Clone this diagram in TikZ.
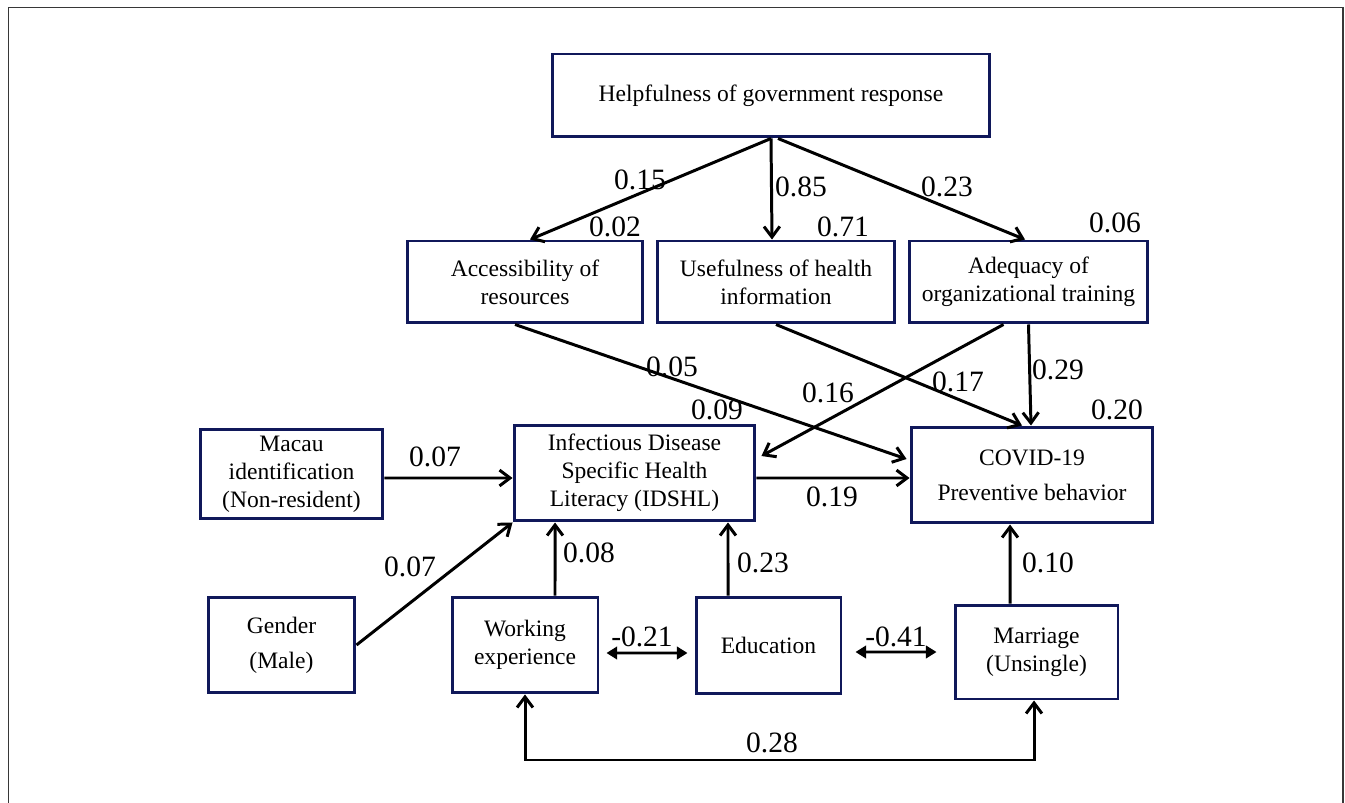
\documentclass[tikz,border=0pt]{standalone}
\usepackage{fontspec}
\setmainfont{Liberation Serif}
\usetikzlibrary{arrows.meta}
\definecolor{boxnavy}{RGB}{16,24,90}
\definecolor{framegray}{RGB}{55,55,55}
\tikzset{
  basebox/.style={rectangle,draw=boxnavy,line width=1.7pt,fill=white,align=center,inner sep=0pt,font=\fontsize{13.4}{15.9}\selectfont},
  coefnode/.style={inner sep=0pt,font=\fontsize{16.8}{18}\selectfont},
  arr/.style={-{Straight Barb[length=6pt,width=9pt]},line width=1.7pt,color=black},
  biarr/.style={{Straight Barb[length=6pt,width=9pt]}-{Straight Barb[length=6pt,width=9pt]},line width=1.7pt,color=black},
  corrarr/.style={{Triangle[length=6pt,width=7pt]}-{Triangle[length=6pt,width=7pt]},line width=1.6pt,color=black}
}

\begin{document}
\begin{tikzpicture}[x=0.02cm,y=-0.02cm]
  \useasboundingbox (0,0) rectangle (1345,803);
  \draw[framegray,line width=1.1pt] (8.5,803) -- (8.5,7.5) -- (1343,7.5) -- (1343,803);

  % variables
  \node[basebox,minimum width=8.76cm,minimum height=1.66cm] (help) at (771,95.5) {Helpfulness of government response};
  \node[basebox,minimum width=4.72cm,minimum height=1.64cm] (access) at (525,282) {Accessibility of\\resources};
  \node[basebox,minimum width=4.76cm,minimum height=1.64cm] (useful) at (776,282) {Usefulness of health\\information};
  \node[basebox,minimum width=4.78cm,minimum height=1.64cm] (adequ) at (1028.5,282) {Adequacy of\\organizational training};
  \node[basebox,minimum width=3.66cm,minimum height=1.8cm] (macau) at (291.5,474) {Macau\\identification\\(Non-resident)};
  \node[basebox,minimum width=4.82cm,minimum height=1.92cm] (idshl) at (634.5,473) {Infectious Disease\\Specific Health\\Literacy (IDSHL)};
  \node[basebox,minimum width=4.84cm,minimum height=1.92cm] (covid) at (1032,475) {COVID-19\\[0.14cm]Preventive behavior};
  \node[basebox,minimum width=2.94cm,minimum height=1.92cm] (gender) at (281.5,645) {Gender\\[0.14cm](Male)};
  \node[basebox,minimum width=2.92cm,minimum height=1.92cm] (work) at (525,645) {Working\\experience};
  \node[basebox,minimum width=2.9cm,minimum height=1.94cm] (edu) at (768.5,645.5) {Education};
  \node[basebox,minimum width=3.26cm,minimum height=1.88cm] (marry) at (1036.5,652) {Marriage\\(Unsingle)};
  \coordinate (base) at (780,760);

  % paths
  \draw[arr] (help.south) -- ([xshift=0.1cm]access.north);
  \draw[arr] (help.south) -- ([xshift=-0.08cm]useful.north);
  \draw[arr] ([xshift=0.14cm]help.south) -- ([xshift=-0.07cm]adequ.north);
  \draw[arr] ([xshift=-0.2cm]access.south) -- ([xshift=-0.06cm,yshift=0.32cm]covid.west);
  \draw[arr] (useful.south) -- ([xshift=-0.2cm]covid.north);
  \draw[arr] ([xshift=-0.5cm]adequ.south) -- ([xshift=0.1cm,yshift=0.34cm]idshl.east);
  \draw[arr] (adequ.south) -- ([xshift=-0.02cm]covid.north);
  \draw[arr] ([yshift=-0.08cm]macau.east) -- ([yshift=-0.1cm]idshl.west);
  \draw[arr] ([yshift=-0.1cm]idshl.east) -- ([yshift=-0.06cm]covid.west);
  \draw[arr] (gender.east) -- (idshl.south west);
  \draw[arr] ([xshift=0.6cm]work.north) -- ([xshift=-1.59cm]idshl.south);
  \draw[arr] ([xshift=-0.81cm]edu.north) -- ([xshift=1.87cm]idshl.south);
  \draw[arr] ([xshift=-0.53cm]marry.north) -- ([xshift=-0.44cm]covid.south);
  \draw[corrarr] ([xshift=0.14cm,yshift=-0.16cm]work.east) -- ([xshift=-0.14cm,yshift=-0.15cm]edu.west);
  \draw[corrarr] ([xshift=0.26cm,yshift=-0.13cm]edu.east) -- ([xshift=-0.34cm]marry.west);
  \draw[biarr] (work.south) |- (base) -| ([xshift=-0.05cm]marry.south);

  % coefficients
  \node[coefnode] (c15) at (640,180) {0.15};
  \node[coefnode] (c85) at (801,187) {0.85};
  \node[coefnode] (c23a) at (947,187) {0.23};
  \node[coefnode] (r02) at (615,227) {0.02};
  \node[coefnode] (r71) at (843,227) {0.71};
  \node[coefnode] (r06) at (1115,223) {0.06};
  \node[coefnode] (c05) at (672,367) {0.05};
  \node[coefnode] (r09) at (717,410) {0.09};
  \node[coefnode] (c16) at (828,393) {0.16};
  \node[coefnode] (c17) at (958,382) {0.17};
  \node[coefnode] (c29) at (1058,370) {0.29};
  \node[coefnode] (r20) at (1117,410) {0.20};
  \node[coefnode] (c07a) at (435,457) {0.07};
  \node[coefnode] (c19) at (832,497) {0.19};
  \node[coefnode] (c07b) at (410,567) {0.07};
  \node[coefnode] (c08) at (589,553) {0.08};
  \node[coefnode] (c23b) at (763,563) {0.23};
  \node[coefnode] (c10) at (1048,563) {0.10};
  \node[coefnode] (k21) at (642,637) {-0.21};
  \node[coefnode] (k41) at (896,637) {-0.41};
  \node[coefnode] (k28) at (772,743) {0.28};
\end{tikzpicture}
\end{document}
